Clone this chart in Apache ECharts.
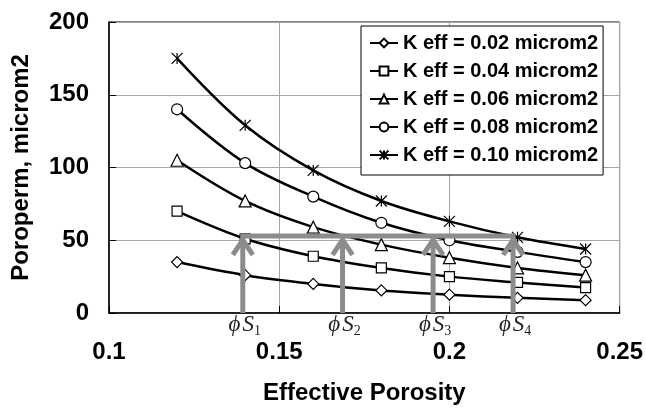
<!DOCTYPE html>
<html><head><meta charset="utf-8">
<script src="https://cdn.jsdelivr.net/npm/echarts@6/dist/echarts.min.js"></script>
<style>html,body{margin:0;padding:0;background:#fff}#c{width:646px;height:410px}</style>
</head><body><div id="c"></div>
<script>
// ---- data ----
const porosity = [0.12, 0.14, 0.16, 0.18, 0.20, 0.22, 0.24];
const seriesNames = ['K eff = 0.02 microm2', 'K eff = 0.04 microm2', 'K eff = 0.06 microm2', 'K eff = 0.08 microm2', 'K eff = 0.10 microm2'];
const k002 = [35, 26, 20, 15.5, 12.6, 10.4, 8.8];
const k004 = [70, 51, 39, 31, 25, 21, 17.5];
const k006 = [105, 77, 59, 47, 38, 31, 26];
const k008 = [140, 103, 80, 62, 50, 42, 35];
const k010 = [175, 129, 98, 77, 63, 52, 44];
const arrowX = [0.1393, 0.1686, 0.1952, 0.2187];
const arrowLevel = 53;
const arrowSub = ['1', '2', '3', '4'];
const xTicks = [0.1, 0.15, 0.2, 0.25];
const yTicks = [0, 50, 100, 150, 200];

// ---- styling ----
const FONT = "'Liberation Sans', Arial, sans-serif";
const GRAY = '#8c8c8c';
const ASTERISK = 'path://M0,0L10,10M10,0L0,10M5,0L5,10';
const symbols = ['diamond', 'rect', 'triangle', 'circle', ASTERISK];
const sizes = [11, 10, 12, 11, 11];
const allValues = [k002, k004, k006, k008, k010];

const lineSeries = allValues.map((vals, i) => ({
  name: seriesNames[i],
  type: 'line',
  smooth: 0.35,
  data: porosity.map((p, j) => [p, vals[j]]),
  symbol: symbols[i],
  symbolSize: sizes[i],
  showAllSymbol: true,
  lineStyle: { color: '#000', width: 2.5 },
  itemStyle: { color: '#fff', borderColor: '#000', borderWidth: 1.2 },
  z: 3
}));

const chart = echarts.init(document.getElementById('c'), null, { renderer: 'canvas' });
chart.setOption({
  animation: false,
  backgroundColor: '#fff',
  grid: { left: 109, right: 25, top: 22, bottom: 97, show: true, borderColor: '#000', borderWidth: 1, backgroundColor: 'transparent' },
  legend: {
    orient: 'vertical', left: 361, top: 26,
    padding: [7, 5, 10, 8],
    itemWidth: 28, itemHeight: 11, itemGap: 8,
    backgroundColor: '#fff', borderColor: '#000', borderWidth: 1,
    lineStyle: { width: 2 },
    textStyle: { fontFamily: FONT, fontWeight: 'bold', fontSize: 20, lineHeight: 20, color: '#000' },
    data: seriesNames
  },
  xAxis: {
    type: 'value', min: 0.1, max: 0.25, interval: 0.05,
    name: 'Effective Porosity', nameLocation: 'middle', nameGap: 68,
    nameTextStyle: { fontFamily: FONT, fontWeight: 'bold', fontSize: 24, color: '#000' },
    axisLine: { lineStyle: { color: '#000', width: 1.5 } },
    axisTick: { inside: true, length: 7, lineStyle: { color: '#000' } },
    axisLabel: { margin: 27, fontFamily: FONT, fontWeight: 'bold', fontSize: 24, color: '#000',
      formatter: v => String(+v.toFixed(2)) },
    splitLine: { show: true, lineStyle: { color: '#a6a6a6', width: 1 } }
  },
  yAxis: {
    type: 'value', min: 0, max: 200, interval: 50,
    name: 'Poroperm, microm2', nameLocation: 'middle', nameGap: 76,
    nameTextStyle: { fontFamily: FONT, fontWeight: 'bold', fontSize: 24, color: '#000' },
    axisLine: { show: true, lineStyle: { color: '#000', width: 1.5 } },
    axisTick: { show: true, inside: true, length: 7, lineStyle: { color: '#000' } },
    axisLabel: { margin: 20, fontFamily: FONT, fontWeight: 'bold', fontSize: 24, color: '#000' },
    splitLine: { show: true, lineStyle: { color: '#a6a6a6', width: 1 } }
  },
  series: lineSeries.concat([
    {
      type: 'line',
      data: [[arrowX[0], arrowLevel], [arrowX[arrowX.length - 1], arrowLevel]],
      symbol: 'none', silent: true,
      lineStyle: { color: GRAY, width: 5, cap: 'square' },
      z: 5
    },
    {
      type: 'custom',
      silent: true,
      clip: false,
      z: 6,
      data: arrowX.map((x, i) => [x, arrowLevel, i]),
      renderItem: function (params, api) {
        const x = api.value(0), lvl = api.value(1), idx = api.value(2);
        const base = api.coord([x, 0]);
        const top = api.coord([x, lvl]);
        return {
          type: 'group',
          children: [
            { type: 'line', shape: { x1: base[0], y1: base[1], x2: top[0], y2: top[1] + 2 },
              style: { stroke: GRAY, lineWidth: 5 } },
            { type: 'polyline', shape: { points: [[top[0] - 10, top[1] + 19], [top[0], top[1] + 4], [top[0] + 10, top[1] + 19]] },
              style: { stroke: GRAY, lineWidth: 5, fill: null, lineJoin: 'miter' } },
            { type: 'text', x: base[0] + 2, y: base[1] + 1,
              style: {
                text: '{p|\u03D5}{s|S}{n|' + arrowSub[idx] + '}',
                align: 'center', verticalAlign: 'top',
                rich: {
                  p: { fontFamily: "'Liberation Serif', 'DejaVu Serif', serif", fontStyle: 'italic', fontSize: 23, lineHeight: 22, fill: '#222', padding: [0, 2, 0, 0] },
                  s: { fontFamily: "'Liberation Serif', 'DejaVu Serif', serif", fontStyle: 'italic', fontSize: 23, lineHeight: 22, fill: '#222' },
                  n: { fontFamily: "'Liberation Serif', 'DejaVu Serif', serif", fontSize: 14, lineHeight: 14, padding: [12, 0, 0, 0], fill: '#222' }
                }
              } }
          ]
        };
      }
    }
  ])
});
</script></body></html>
